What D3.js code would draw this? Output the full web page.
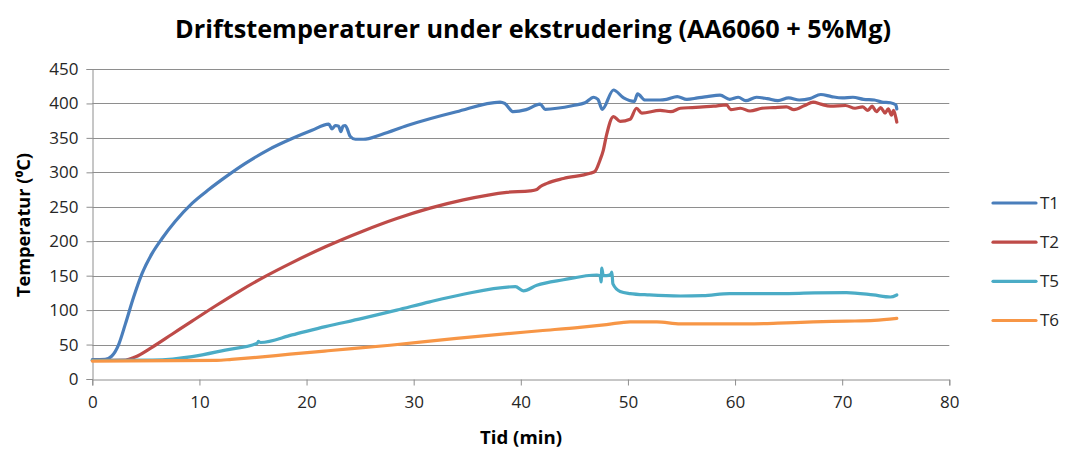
<!DOCTYPE html>
<html>
<head>
<meta charset="utf-8">
<script src="https://cdn.jsdelivr.net/npm/d3@7"></script>
<style>
  html, body { margin: 0; padding: 0; background: #fff; }
  svg { display: block; font-family: "Open Sans", "DejaVu Sans", sans-serif; }
</style>
</head>
<body>
<svg id="chart" width="1067" height="450"></svg>
<script>
// Operating temperatures during extrusion (AA6060 + 5%Mg)
const title = "Driftstemperaturer under ekstrudering (AA6060 + 5%Mg)";
const xTitle = "Tid (min)";
const yTitle = "Temperatur (⁰C)";

const xTicks = [0, 10, 20, 30, 40, 50, 60, 70, 80];
const yTicks = [0, 50, 100, 150, 200, 250, 300, 350, 400, 450];

const seriesNames = ["T1", "T2", "T5", "T6"];
const seriesColors = ["#4a7ebb", "#be4b48", "#4bacc6", "#f79646"];

// T1
const t1Time = [0, 1.2, 1.8, 2.46, 3.09, 3.86, 4.64, 5.57, 6.51, 7.75, 9.31, 10.87, 12.42, 14.29, 16.47, 18.65, 20.51, 22.07, 22.38, 22.7, 23.0, 23.2, 23.4, 23.62, 24.09, 24.56, 25.3, 27, 29.4, 34, 38.07, 38.5, 39.3, 40.5, 41.8, 42.27, 44.9, 46, 46.8, 47.2, 47.6, 48.65, 49.6, 50.6, 50.9, 51.6, 53, 53.6, 54.6, 55.5, 56.5, 57.4, 58.6, 59.5, 60.3, 61, 62, 63, 64, 65, 66, 67, 68, 69, 70, 71, 72, 73, 73.7, 74.5, 75, 75.1];
const t1Temp = [28, 28.5, 33, 50, 80, 119, 153, 182, 204, 229, 255, 275, 293, 313, 333, 349, 361, 370, 363, 368, 367, 359, 367, 368, 352, 348, 348, 355, 368, 388, 402, 400, 388, 391, 399, 391.5, 397, 401, 409, 406, 391.5, 419.5, 408, 403, 414, 405, 405, 406, 410, 406, 408, 410, 412, 406, 409, 404, 409, 407, 404, 408, 405, 407, 413, 410, 408, 409, 406, 405, 402, 401, 398, 392];

// T2
const t2Time = [0, 3.1, 4.0, 5.57, 7.44, 9.31, 11.49, 13.67, 16.15, 18.65, 21.76, 25.3, 28.42, 31.53, 34.64, 38.69, 40.87, 41.5, 41.8, 42.45, 43.98, 46.47, 46.9, 47.4, 47.7, 48.0, 48.65, 49.27, 50.2, 50.8, 51.3, 53, 54, 54.9, 56, 57, 58, 59.2, 59.6, 60.5, 61.4, 62.5, 63.6, 64.8, 65.5, 66.5, 67.3, 68, 68.9, 70.3, 71.2, 71.9, 72.4, 72.8, 73.2, 73.6, 74, 74.3, 74.6, 74.8, 75, 75.1];
const t2Temp = [27, 27.5, 32, 46, 65, 84, 106, 127, 149, 169, 192, 215, 233, 248, 260, 271, 273, 275, 279, 284, 291, 298.6, 301, 318, 332, 354, 381, 374, 377, 393, 386, 390, 388, 393, 394, 395, 396, 398, 391, 393, 389, 393, 394, 395, 391, 397, 402, 399, 396, 397, 393, 395, 390, 396, 388, 394, 386, 392, 383, 390, 380, 373];

// T5
const t5Time = [0, 5.6, 7.5, 9.31, 12.42, 15.4, 15.5, 15.7, 18.65, 21.76, 25.2, 28.42, 31.5, 34.64, 39.5, 40.24, 41.5, 43.98, 47.1, 47.4, 47.5, 47.56, 47.7, 48.0, 48.4, 48.5, 48.6, 49.27, 50.2, 52, 54.9, 57, 59.5, 62, 65, 67.4, 70.4, 72.9, 74.5, 75.1];
const t5Temp = [27, 27.5, 29, 32.4, 42, 52, 54.5, 53, 64, 76, 88, 100, 112, 123, 134, 128, 136, 144, 151, 150, 141, 161, 150, 150, 152, 155, 138, 127, 124, 122, 120.5, 121, 124, 124, 124, 125, 125.5, 122, 119, 122];

// T6
const t6Time = [0, 11.6, 13, 15, 18.46, 22, 27.8, 34, 41.8, 45.5, 48, 50.2, 52.7, 54.9, 58, 61.1, 64, 67.3, 70.4, 73, 75.1];
const t6Temp = [26, 27, 28.5, 31, 36, 41, 49, 59, 70, 75, 79, 83, 83, 80, 80, 80, 81, 83, 84, 85, 88];

const seriesTime = [t1Time, t2Time, t5Time, t6Time];
const seriesTemp = [t1Temp, t2Temp, t5Temp, t6Temp];

const svg = d3.select("#chart");
const plot = { left: 92.3, right: 949.3, top: 69, bottom: 379 };

const x = d3.scaleLinear().domain([0, 80]).range([plot.left, plot.right]);
const y = d3.scaleLinear().domain([0, 450]).range([plot.bottom, plot.top]);

const gridColor = "#8e8e8e";
const textColor = "#262626";

// horizontal gridlines
svg.append("g")
  .selectAll("line")
  .data(yTicks.filter(d => d > 0))
  .join("line")
  .attr("x1", plot.left).attr("x2", plot.right)
  .attr("y1", d => Math.round(y(d)) + 0.5).attr("y2", d => Math.round(y(d)) + 0.5)
  .attr("stroke", gridColor).attr("stroke-width", 1);

// y axis
const yAxis = svg.append("g")
  .attr("transform", `translate(${Math.round(plot.left) + 0.5},0)`)
  .call(d3.axisLeft(y).tickValues(yTicks).tickSize(6).tickPadding(8));
// x axis
const xAxis = svg.append("g")
  .attr("transform", `translate(0,${Math.round(plot.bottom) + 0.5})`)
  .call(d3.axisBottom(x).tickValues(xTicks).tickSize(6).tickPadding(10));

[yAxis, xAxis].forEach(g => {
  g.select(".domain").attr("stroke", gridColor);
  g.selectAll(".tick line").attr("stroke", gridColor);
  g.selectAll(".tick text")
    .attr("fill", textColor)
    .style("font-size", "17px")
    .style("font-family", "'Open Sans', sans-serif");
});

// series lines
const line = d3.line()
  .x(d => x(d[0]))
  .y(d => y(d[1]))
  .curve(d3.curveMonotoneX);

seriesNames.forEach((name, i) => {
  const pts = seriesTime[i].map((t, j) => [t, seriesTemp[i][j]]);
  svg.append("path")
    .datum(pts)
    .attr("fill", "none")
    .attr("stroke", seriesColors[i])
    .attr("stroke-width", 3.2)
    .attr("stroke-linejoin", "round")
    .attr("stroke-linecap", "round")
    .attr("d", line);
});

// legend
const legendY = d3.scalePoint().domain(seriesNames).range([203, 320.5]);
const legend = svg.append("g");
seriesNames.forEach((name, i) => {
  legend.append("line")
    .attr("x1", 993).attr("x2", 1036)
    .attr("y1", legendY(name)).attr("y2", legendY(name))
    .attr("stroke", seriesColors[i]).attr("stroke-width", 3.2)
    .attr("stroke-linecap", "round");
  legend.append("text")
    .attr("x", 1040).attr("y", legendY(name))
    .attr("dy", "0.35em")
    .attr("fill", textColor)
    .style("font-size", "17px")
    .text(name);
});

// title
svg.append("text")
  .attr("x", 533).attr("y", 38)
  .attr("text-anchor", "middle")
  .attr("fill", "#000")
  .attr("textLength", 716)
  .attr("lengthAdjust", "spacingAndGlyphs")
  .style("font-size", "25px")
  .style("font-weight", "bold")
  .text(title);

// axis titles
svg.append("text")
  .attr("x", 521).attr("y", 444)
  .attr("text-anchor", "middle")
  .attr("fill", "#000")
  .attr("textLength", 82)
  .attr("lengthAdjust", "spacingAndGlyphs")
  .style("font-size", "17px")
  .style("font-weight", "bold")
  .text(xTitle);

svg.append("text")
  .attr("transform", "translate(30,225) rotate(-90)")
  .attr("text-anchor", "middle")
  .attr("fill", "#000")
  .attr("textLength", 144)
  .attr("lengthAdjust", "spacingAndGlyphs")
  .style("font-size", "17px")
  .style("font-weight", "bold")
  .text(yTitle);
</script>
</body>
</html>
